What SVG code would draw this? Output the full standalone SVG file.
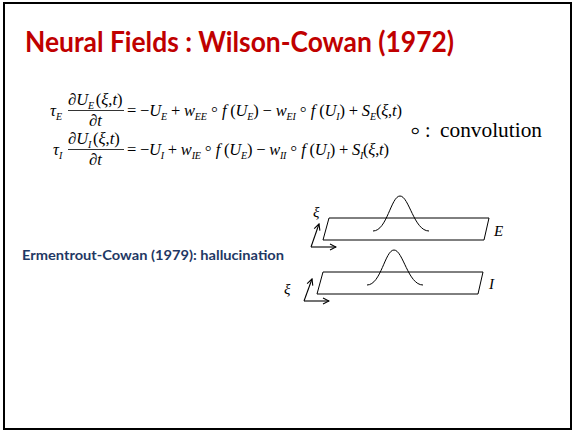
<svg xmlns="http://www.w3.org/2000/svg" width="573" height="432" viewBox="0 0 573 432">
<defs>
<style>
.eq{font-family:"Liberation Serif","Times New Roman",serif;font-size:16.5px;fill:#000}
.i{font-style:italic}
.s{font-style:italic;font-size:10px}
.r{font-size:21px}
.lbl{font-family:"Liberation Serif","Times New Roman",serif;font-style:italic;font-size:15px;fill:#000}
.shape{fill:none;stroke:#000;stroke-width:1}
.ax{fill:none;stroke:#000;stroke-width:1.1;marker-end:url(#arr)}
</style>
<marker id="arr" viewBox="0 0 8 8" refX="7" refY="4" markerWidth="8" markerHeight="8" markerUnits="userSpaceOnUse" orient="auto">
<path d="M1,1 L7,4 L1,7" fill="none" stroke="#000" stroke-width="1.1"/>
</marker>
</defs>
<rect x="0" y="0" width="573" height="432" fill="#fff"/>
<rect x="4" y="3" width="567" height="426" fill="none" stroke="#000" stroke-width="2"/>

<g id="title">
<text x="25" y="52" font-family="Lato,'Liberation Sans',sans-serif" font-weight="bold" font-size="29" fill="#C00000" textLength="429" lengthAdjust="spacingAndGlyphs">Neural Fields : Wilson-Cowan (1972)</text>
</g>

<g id="equation-E">
<text class="eq" y="116"><tspan x="50" class="i">τ</tspan><tspan class="s" dy="3.5">E</tspan></text>
<text class="eq" y="105"><tspan x="68">∂</tspan><tspan class="i">U</tspan><tspan class="s" dy="3.5">E</tspan><tspan dy="-3.5" dx="1.5">(</tspan><tspan class="i">ξ</tspan>,<tspan class="i">t</tspan>)</text>
<line x1="68" y1="110.5" x2="124" y2="110.5" stroke="#000" stroke-width="0.8"/>
<text class="eq" x="89" y="126">∂<tspan class="i">t</tspan></text>
<text class="eq" x="127" y="116" textLength="275" lengthAdjust="spacing" xml:space="preserve">= −<tspan class="i">U</tspan><tspan class="s" dy="3.5">E</tspan><tspan dy="-3.5"> + </tspan><tspan class="i">w</tspan><tspan class="s" dy="3.5">EE</tspan><tspan dy="-3.5"> </tspan><tspan class="r">◦</tspan> <tspan class="i">f</tspan> (<tspan class="i">U</tspan><tspan class="s" dy="3.5">E</tspan><tspan dy="-3.5">) − </tspan><tspan class="i">w</tspan><tspan class="s" dy="3.5">EI</tspan><tspan dy="-3.5"> </tspan><tspan class="r">◦</tspan> <tspan class="i">f</tspan> (<tspan class="i">U</tspan><tspan class="s" dy="3.5">I</tspan><tspan dy="-3.5">) + </tspan><tspan class="i">S</tspan><tspan class="s" dy="3.5">E</tspan><tspan dy="-3.5">(</tspan><tspan class="i">ξ</tspan>,<tspan class="i">t</tspan>)</text>
</g>

<g id="equation-I">
<text class="eq" y="155"><tspan x="53" class="i">τ</tspan><tspan class="s" dy="3.5">I</tspan></text>
<text class="eq" y="144"><tspan x="68">∂</tspan><tspan class="i">U</tspan><tspan class="s" dy="3.5">I</tspan><tspan dy="-3.5" dx="1.5">(</tspan><tspan class="i">ξ</tspan>,<tspan class="i">t</tspan>)</text>
<line x1="68" y1="149.5" x2="124" y2="149.5" stroke="#000" stroke-width="0.8"/>
<text class="eq" x="89" y="165">∂<tspan class="i">t</tspan></text>
<text class="eq" x="127" y="155" textLength="262" lengthAdjust="spacing" xml:space="preserve">= −<tspan class="i">U</tspan><tspan class="s" dy="3.5">I</tspan><tspan dy="-3.5"> + </tspan><tspan class="i">w</tspan><tspan class="s" dy="3.5">IE</tspan><tspan dy="-3.5"> </tspan><tspan class="r">◦</tspan> <tspan class="i">f</tspan> (<tspan class="i">U</tspan><tspan class="s" dy="3.5">E</tspan><tspan dy="-3.5">) − </tspan><tspan class="i">w</tspan><tspan class="s" dy="3.5">II</tspan><tspan dy="-3.5"> </tspan><tspan class="r">◦</tspan> <tspan class="i">f</tspan> (<tspan class="i">U</tspan><tspan class="s" dy="3.5">I</tspan><tspan dy="-3.5">) + </tspan><tspan class="i">S</tspan><tspan class="s" dy="3.5">I</tspan><tspan dy="-3.5">(</tspan><tspan class="i">ξ</tspan>,<tspan class="i">t</tspan>)</text>
</g>

<g id="convolution-note">
<text x="410" y="140" font-family="'Liberation Serif','Times New Roman',serif" font-size="29" fill="#000">◦</text>
<text x="425" y="137" font-family="'Liberation Serif','Times New Roman',serif" font-size="20" fill="#000">:</text>
<text x="440" y="137" font-family="'Liberation Serif','Times New Roman',serif" font-size="20" fill="#000" textLength="102" lengthAdjust="spacingAndGlyphs">convolution</text>
</g>

<g id="caption">
<text x="22" y="260" font-family="Lato,'Liberation Sans',sans-serif" font-weight="bold" font-size="14" fill="#1F3864" textLength="262" lengthAdjust="spacingAndGlyphs">Ermentrout-Cowan (1979): hallucination</text>
</g>

<g id="field-E">
<path class="shape" d="M329,218 L489,218 L484,240 L323,240 Z"/>
<path class="shape" d="M373,231 C387,231 391,196 400,196 C409,196 414,231 429,231"/>
<text class="lbl" x="494" y="236">E</text>
</g>

<g id="field-I">
<path class="shape" d="M323,272 L483,272 L478,294 L317,294 Z"/>
<path class="shape" d="M367,285 C381,285 385,250 394,250 C403,250 408,285 423,285"/>
<text class="lbl" x="489" y="289">I</text>
</g>

<g id="axes-E">
<line class="ax" x1="311" y1="247" x2="319" y2="224"/>
<line class="ax" x1="311" y1="247" x2="336" y2="247"/>
<text class="lbl" x="313" y="217">ξ</text>
</g>

<g id="axes-I">
<line class="ax" x1="304" y1="301" x2="312" y2="279"/>
<line class="ax" x1="304" y1="301" x2="329" y2="301"/>
<text class="lbl" x="284" y="294">ξ</text>
</g>
</svg>
